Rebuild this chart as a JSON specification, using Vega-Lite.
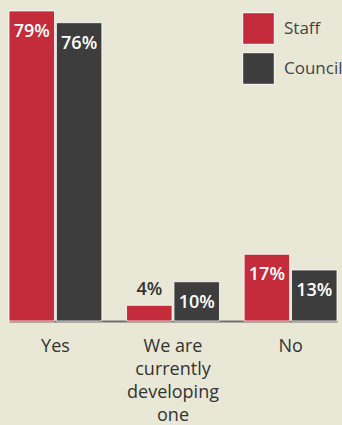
{
  "$schema": "https://vega.github.io/schema/vega-lite/v6.json",
  "width": 328,
  "height": 314,
  "autosize": {"type": "none"},
  "padding": {"left": 9, "top": 7, "right": 5, "bottom": 104},
  "background": "#e9e8d6",
  "config": {"view": {"stroke": null}, "font": "Open Sans"},
  "data": {
    "values": [
      {"answer": "Yes", "group": "Staff", "value": 79, "label": "79%"},
      {"answer": "Yes", "group": "Council", "value": 76, "label": "76%"},
      {"answer": "We are currently developing one", "group": "Staff", "value": 4, "label": "4%"},
      {"answer": "We are currently developing one", "group": "Council", "value": 10, "label": "10%"},
      {"answer": "No", "group": "Staff", "value": 17, "label": "17%"},
      {"answer": "No", "group": "Council", "value": 13, "label": "13%"}
    ]
  },
  "encoding": {
    "x": {
      "field": "answer",
      "type": "nominal",
      "sort": ["Yes", "We are currently developing one", "No"],
      "scale": {"paddingInner": 0.21, "paddingOuter": 0},
      "axis": {
        "title": null,
        "labelAngle": 0,
        "ticks": false,
        "domainColor": "#707070",
        "domainWidth": 2,
        "labelFontSize": 18,
        "labelColor": "#333333",
        "labelPadding": 16,
        "labelLineHeight": 23,
        "labelExpr": "datum.label == 'We are currently developing one' ? ['We are', 'currently', 'developing', 'one'] : datum.label"
      }
    },
    "xOffset": {"field": "group", "sort": ["Staff", "Council"], "scale": {"paddingInner": 0.04}},
    "y": {"field": "value", "type": "quantitative", "scale": {"domain": [0, 80]}, "axis": null}
  },
  "layer": [
    {
      "mark": {"type": "bar", "stroke": "#ffffff", "strokeWidth": 1, "strokeOpacity": 0.8},
      "encoding": {
        "color": {
          "field": "group",
          "type": "nominal",
          "sort": ["Staff", "Council"],
          "scale": {"domain": ["Staff", "Council"], "range": ["#c42b3b", "#3d3d3d"]},
          "legend": {
            "orient": "none",
            "legendX": 233,
            "legendY": 5,
            "title": null,
            "symbolType": "square",
            "symbolSize": 1000,
            "symbolStrokeColor": "#ffffff",
            "symbolStrokeWidth": 1,
            "symbolOpacity": 1,
            "labelFontSize": 17,
            "labelColor": "#444444",
            "labelOffset": 9,
            "rowPadding": 3
          }
        }
      }
    },
    {
      "transform": [{"filter": "datum.value >= 5"}],
      "mark": {"type": "text", "color": "#ffffff", "fontSize": 18, "fontWeight": 600, "baseline": "middle", "dy": 21},
      "encoding": {"text": {"field": "label"}}
    },
    {
      "transform": [{"filter": "datum.value < 5"}],
      "mark": {"type": "text", "color": "#333333", "fontSize": 18, "fontWeight": 600, "baseline": "middle", "dy": -15},
      "encoding": {"text": {"field": "label"}}
    }
  ]
}
